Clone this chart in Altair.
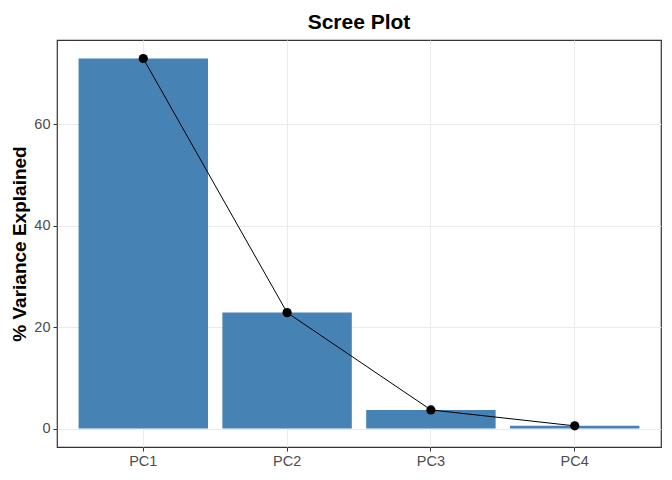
import altair as alt
import pandas as pd

components = ["PC1", "PC2", "PC3", "PC4"]
variance = [72.96, 22.85, 3.67, 0.52]

df = pd.DataFrame({"pc": components, "var": variance})

FONT = "Liberation Sans"

x = alt.X("pc:N", sort=components, title=None,
          scale=alt.Scale(paddingInner=0.1, paddingOuter=0.15),
          axis=alt.Axis(labelAngle=0, grid=True, gridColor="#EBEBEB", gridWidth=1,
                        tickColor="#333333", tickSize=4, labelColor="#4D4D4D",
                        labelFontSize=14.5, labelFont=FONT, labelPadding=3,
                        domain=False))
y = alt.Y("var:Q", title="% Variance Explained",
          scale=alt.Scale(domain=[-3.648, 76.608], nice=False, zero=False),
          axis=alt.Axis(values=[0, 20, 40, 60], grid=True, gridColor="#EBEBEB", gridWidth=1,
                        tickColor="#333333", tickSize=4, labelColor="#4D4D4D",
                        labelFontSize=14.5, labelFont=FONT, labelPadding=3,
                        titleFont=FONT, titleFontSize=19, titleFontWeight="bold",
                        titleColor="black", titlePadding=4, domain=False))

base = alt.Chart(df)
bars = base.mark_bar(color="steelblue").encode(x=x, y=y)
line = base.mark_line(color="black", strokeWidth=1).encode(x=x, y=y)
pts = base.mark_point(filled=True, color="black", size=85, opacity=1).encode(x=x, y=y)

chart = (bars + line + pts).properties(
    width=604, height=407,
    background="white",
    title=alt.Title("Scree Plot", font=FONT, fontSize=21, fontWeight="bold",
                    color="black", anchor="middle", offset=7),
    padding={"left": 2, "top": 4, "right": 2, "bottom": 5},
).configure_view(stroke="#333333", strokeWidth=1.2)

chart.save("out.html", embed_options={"renderer": "svg", "actions": False})
